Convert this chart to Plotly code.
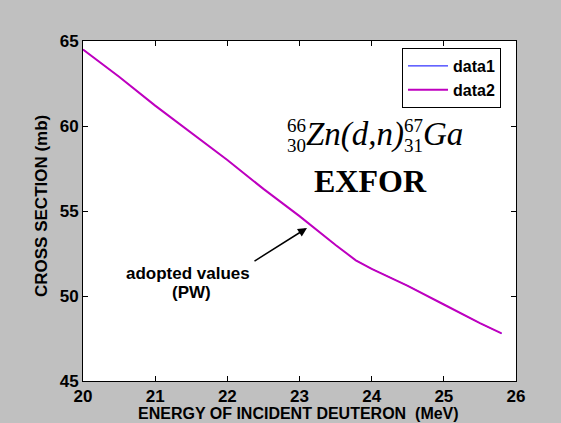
import plotly.graph_objects as go

# Cross section of 66Zn(d,n)67Ga versus incident deuteron energy
energy_mev = [20.0, 20.5, 21.0, 21.5, 22.0, 22.5, 23.0, 23.5, 23.78, 24.0, 24.5, 25.0, 25.5, 25.8]
sigma_data1 = [64.5, 62.9, 61.2, 59.6, 58.0, 56.3, 54.7, 53.0, 52.1, 51.6, 50.6, 49.5, 48.4, 47.8]
sigma_data2 = [64.5, 62.9, 61.2, 59.6, 58.0, 56.3, 54.7, 53.0, 52.1, 51.6, 50.6, 49.5, 48.4, 47.8]

x_ticks = [20, 21, 22, 23, 24, 25, 26]
y_ticks = [45, 50, 55, 60, 65]

x_label = "ENERGY OF INCIDENT DEUTERON  (MeV)"
y_label = "CROSS SECTION (mb)"

W, H = 561, 423
L, R, T, B = 83, 516, 41, 381  # plot box in pixels


def px(xp):
    return (xp - L) / (R - L)


def py(yp):
    return (B - yp) / (B - T)


SANS = "Liberation Sans, Arial, sans-serif"
SERIF = "Liberation Serif, Times New Roman, serif"

fig = go.Figure()
fig.add_trace(go.Scatter(x=energy_mev, y=sigma_data1, mode="lines", name="data1",
                         line=dict(color="#0000FF", width=1)))
fig.add_trace(go.Scatter(x=energy_mev, y=sigma_data2, mode="lines", name="data2",
                         line=dict(color="#BF00BF", width=2)))

axis_common = dict(showline=True, linecolor="black", linewidth=1, mirror="ticks",
                   ticks="inside", ticklen=5, tickcolor="black", showgrid=False,
                   zeroline=False, automargin=False,
                   tickfont=dict(family=SANS, size=17, color="black", weight="bold"))

fig.update_xaxes(range=[20, 26], tickvals=x_ticks, ticktext=[str(v) for v in x_ticks],
                 **axis_common)
fig.update_yaxes(range=[45, 65], tickvals=y_ticks, ticktext=[str(v) for v in y_ticks],
                 **axis_common)

annotations = []
REF = dict(xref="x domain", yref="y domain")


def note(text, xp, yp, size, family, xanchor="center", weight="normal",
         yanchor="middle", angle=0):
    annotations.append(dict(text=text, x=px(xp), y=py(yp), showarrow=False,
                            xanchor=xanchor, yanchor=yanchor, textangle=angle,
                            font=dict(family=family, size=size, color="black", weight=weight),
                            **REF))


# Axis labels placed below / left of the tick labels
note(x_label, 298, 403, 16, SANS, weight="bold", yanchor="top")
note(y_label, 41, 206, 17, SANS, weight="bold", angle=-90)

# Reaction label: nuclide indices stacked left of each symbol
note("66", 285, 125, 19, SERIF, "left")
note("30", 285, 145, 19, SERIF, "left")
note("<i>Zn(d,n)</i>", 304, 134, 33, SERIF, "left")
note("67", 402, 125, 19, SERIF, "left")
note("31", 402, 145, 19, SERIF, "left")
note("<i>Ga</i>", 421, 134, 33, SERIF, "left")
note("EXFOR", 370, 181, 32, SERIF, weight="bold")

note("adopted values", 188, 273, 17, SANS, weight="bold")
note("(PW)", 191, 292, 17, SANS, weight="bold")

# Arrow pointing at the adopted curve
annotations.append(dict(x=px(307), y=py(228), ax=px(253), ay=py(262),
                        axref="x domain", ayref="y domain",
                        text="", showarrow=True, arrowhead=2, arrowsize=1.2,
                        arrowwidth=1.5, arrowcolor="black", **REF))

fig.update_layout(
    width=W, height=H,
    margin=dict(l=L, r=W - R, t=T, b=H - B, pad=0),
    paper_bgcolor="#C0C0C0", plot_bgcolor="white",
    showlegend=True,
    legend=dict(x=px(402), y=py(48), xanchor="left", yanchor="top",
                bgcolor="white", bordercolor="black", borderwidth=1,
                font=dict(family=SANS, size=16, color="black", weight="bold"),
                tracegroupgap=0, itemwidth=40),
    annotations=annotations,
)

fig.write_html("out.html")
